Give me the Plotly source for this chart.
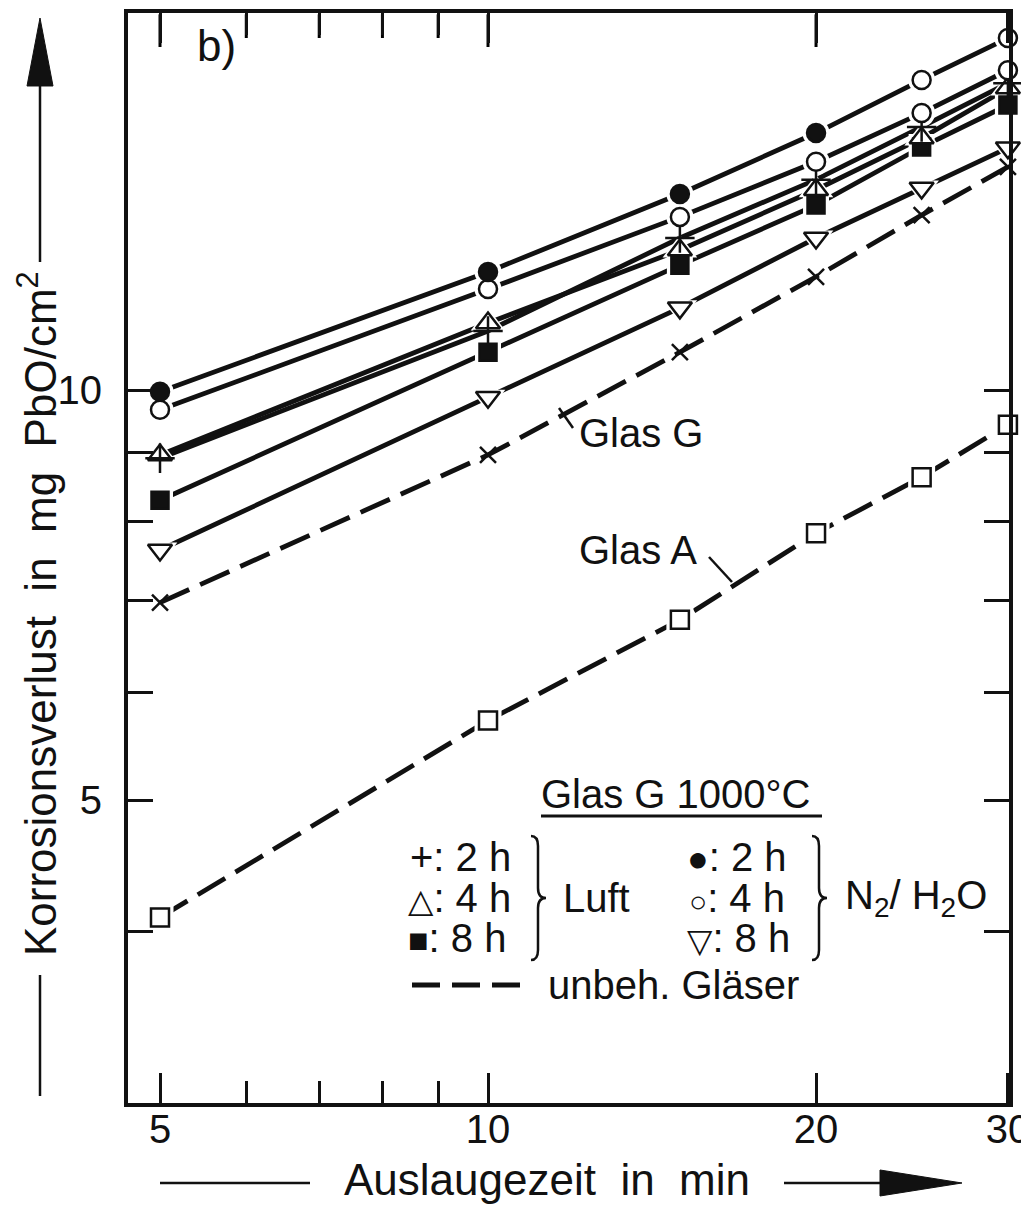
import plotly.graph_objects as go
import math

# ---------------- data ----------------
times = [5, 10, 15, 20, 25, 30]                       # Auslaugezeit in min
n2_2h = [9.97, 12.21, 13.93, 15.44, 16.89, 18.13]     # ● N2/H2O 2 h
n2_4h = [9.67, 11.86, 13.40, 14.71, 15.97, 17.17]     # ○ N2/H2O 4 h
luft_2h = [8.91, 11.05, 12.93, 14.27, 15.60, 16.80]   # + Luft 2 h
luft_4h = [8.96, 11.20, 12.67, 14.03, 15.31, 16.66]   # △ Luft 4 h
luft_8h = [8.30, 10.66, 12.35, 13.67, 15.08, 16.19]   # ■ Luft 8 h
n2_8h = [7.63, 9.88, 11.49, 12.93, 14.07, 15.06]      # ▽ N2/H2O 8 h
glas_g = [6.98, 8.96, 10.66, 12.11, 13.44, 14.58]     # × unbehandeltes Glas G
glas_a = [4.10, 5.72, 6.78, 7.85, 8.63, 9.43]         # □ unbehandeltes Glas A

x_tickvals = [5, 10, 20, 30]
x_ticktext = ["5", "10", "20", "30"]
x_minor_vals = [6, 7, 8, 9]
y_tickvals = [4, 5, 6, 7, 8, 9, 10]
y_ticktext = ["", "5", "", "", "", "", "10"]

FONT = "Liberation Sans, Arial, DejaVu Sans, sans-serif"
BLACK = "#111111"

# ---------------- geometry ----------------
W, H = 1021, 1205
ML, MR, MT, MB = 128, 12, 13, 102
PW, PH = W - ML - MR, H - MT - MB
X_RANGE = [math.log10(5) - 32 / 1089.8, math.log10(30) + 0.001]
Y_RANGE = [1 - 713 / 1362, 1 + 377 / 1362]


def px(x):
    return (x - ML) / PW


def py(y):
    return (H - MB - y) / PH


fig = go.Figure()

# series: values, symbols, fills, size, dash, halo
series = [
    (glas_a, ["square"] * 6, ["white"] * 6, 18, "32px,12px", True),
    (glas_g, ["x-thin"] * 6, [BLACK] * 6, 16, "32px,12px", False),
    (n2_8h, ["triangle-down"] * 6, ["white"] * 6, 21, "solid", True),
    (luft_8h, ["square"] * 6, [BLACK] * 6, 17, "solid", True),
    (luft_4h, ["triangle-up"] * 6, ["white"] * 6, 21, "solid", True),
    (luft_2h, ["cross-thin"] * 6, [BLACK] * 6, 21, "solid", False),
    (n2_4h, ["circle"] * 6, ["white"] * 6, 18, "solid", True),
    (n2_2h, ["circle"] * 6, [BLACK] * 4 + ["white"] * 2, 18, "solid", True),
]

# lines
for vals, sym, fills, size, dash, halo in series:
    fig.add_trace(go.Scatter(x=times, y=vals, mode="lines",
                             line=dict(color=BLACK, width=4.8, dash=dash),
                             showlegend=False, hoverinfo="skip", cliponaxis=False))
# halos (white gap around markers)
for vals, sym, fills, size, dash, halo in series:
    if halo:
        fig.add_trace(go.Scatter(x=times, y=vals, mode="markers",
                                 marker=dict(symbol=sym, size=size + 9, color="white",
                                             line=dict(color="white", width=0)),
                                 showlegend=False, hoverinfo="skip", cliponaxis=False))
# markers
for vals, sym, fills, size, dash, halo in series:
    fig.add_trace(go.Scatter(x=times, y=vals, mode="markers",
                             marker=dict(symbol=sym, size=size, color=fills,
                                         line=dict(color=BLACK, width=2.5)),
                             showlegend=False, cliponaxis=False))

# top x ticks drawn as a line trace, with explicit lists of points
top_x, top_y = [], []
for v in x_tickvals[:-1]:
    top_x += [v, v, None]
    top_y += [10 ** (Y_RANGE[1] - 0.001), 10 ** (Y_RANGE[1] - 34 / 1362), None]
for v in x_minor_vals:
    top_x += [v, v, None]
    top_y += [10 ** (Y_RANGE[1] - 0.001), 10 ** (Y_RANGE[1] - 25 / 1362), None]
fig.add_trace(go.Scatter(x=top_x, y=top_y, mode="lines",
                         line=dict(color="#000000", width=3),
                         showlegend=False, hoverinfo="skip", cliponaxis=True))

annotations = []


def txt(text, x, y, size=40, xanchor="left", angle=0):
    annotations.append(dict(text=text, x=px(x), y=py(y), xref="paper", yref="paper",
                            xanchor=xanchor, yanchor="middle", showarrow=False,
                            textangle=angle, font=dict(family=FONT, size=size, color=BLACK)))


def sym(s, size):
    return f"<span style='font-size:{size}px'>{s}</span>"


txt("b)", 216, 45, size=44, xanchor="center")
txt("Glas G", 577, 433)
txt("Glas A", 577, 550)
txt("Glas G 1000°C", 539, 794)
txt("+: 2 h", 408, 857)
txt(sym("△", 33) + ": 4 h", 406, 898)
txt(sym("■", 34) + ": 8 h", 406, 938)
txt("Luft", 561, 898)
txt(sym("●", 36) + ": 2 h", 685, 857)
txt(sym("○", 30) + ": 4 h", 687, 898)
txt(sym("▽", 33) + ": 8 h", 685, 938)
txt("N<sub>2</sub>/ H<sub>2</sub>O", 843, 898)
txt("unbeh. Gläser", 546, 985)
txt("Korrosionsverlust  in  mg  PbO/cm<sup>2</sup>", 37, 614, size=44,
    xanchor="center", angle=-90)
txt("Auslaugezeit  in  min", 547, 1179, size=44, xanchor="center")

shapes = []


def line(x0, y0, x1, y1, width=3, dash="solid"):
    shapes.append(dict(type="line", xref="paper", yref="paper",
                       x0=px(x0), y0=py(y0), x1=px(x1), y1=py(y1),
                       line=dict(color=BLACK, width=width, dash=dash)))


def path(cmds, closed=False, fill=None, width=2.5):
    parts = []
    for cmd, pts in cmds:
        parts.append(cmd + " " + " ".join(f"{px(a):.5f},{py(b):.5f}" for a, b in pts))
    d = " ".join(parts) + (" Z" if closed else "")
    shapes.append(dict(type="path", xref="paper", yref="paper", path=d,
                       fillcolor=fill if fill else "rgba(0,0,0,0)",
                       line=dict(color=BLACK, width=width)))


def brace(x0, top, bot, depth=7, tip=8):
    mid = (top + bot) / 2
    xm = x0 + depth
    path([("M", [(x0, top)]), ("Q", [(xm, top), (xm, top + 10)]),
          ("L", [(xm, mid - 10)]), ("Q", [(xm, mid), (xm + tip, mid)]),
          ("Q", [(xm, mid), (xm, mid + 10)]), ("L", [(xm, bot - 10)]),
          ("Q", [(xm, bot), (x0, bot)])], width=2.5)


def arrowhead(tip, b1, b2):
    path([("M", [tip]), ("L", [b1]), ("L", [b2])], closed=True, fill=BLACK, width=1)


# leaders
line(559, 408, 573, 428, width=2.5)
line(709, 557, 732, 582, width=2.5)
# legend underline
line(541, 816, 822, 816, width=3)
# braces
brace(531, 836, 960)
brace(812, 836, 960)
# dash sample
line(412, 985, 526, 985, width=5, dash="28px,12px")
# y-axis title rules and arrow
line(40, 975, 40, 1096, width=2.5)
line(40, 262, 40, 80, width=2.5)
arrowhead((40, 18), (27, 86), (53, 86))
# x-axis title rules and arrow
line(160, 1183, 310, 1183, width=2.5)
line(784, 1183, 885, 1183, width=2.5)
arrowhead((962, 1183), (880, 1170), (880, 1196))

axis_common = dict(showgrid=False, zeroline=False, showline=True, linecolor=BLACK,
                   linewidth=4, ticks="inside", tickcolor=BLACK, mirror="allticks",
                   tickwidth=2.5, automargin=False, ticklabeloverflow="allow",
                   tickfont=dict(family=FONT, size=40, color=BLACK))

fig.update_layout(
    template="none",
    width=W, height=H,
    margin=dict(l=ML, r=MR, t=MT, b=MB, pad=0),
    paper_bgcolor="white", plot_bgcolor="white",
    showlegend=False,
    xaxis=dict(type="log", range=X_RANGE,
               tickmode="array", tickvals=x_tickvals, ticktext=x_ticktext,
               ticklen=30, ticklabelstandoff=-12,
               minor=dict(tickmode="array", tickvals=x_minor_vals, ticks="inside",
                          ticklen=22, tickwidth=2.5, tickcolor=BLACK),
               **axis_common),
    yaxis=dict(type="log", range=Y_RANGE,
               tickmode="array", tickvals=y_tickvals, ticktext=y_ticktext, ticklen=25,
               ticklabelstandoff=14,
               **{**axis_common, "mirror": "ticks"}),
    annotations=annotations,
    shapes=shapes,
)

fig.write_html("out.html", config={"displayModeBar": False})
